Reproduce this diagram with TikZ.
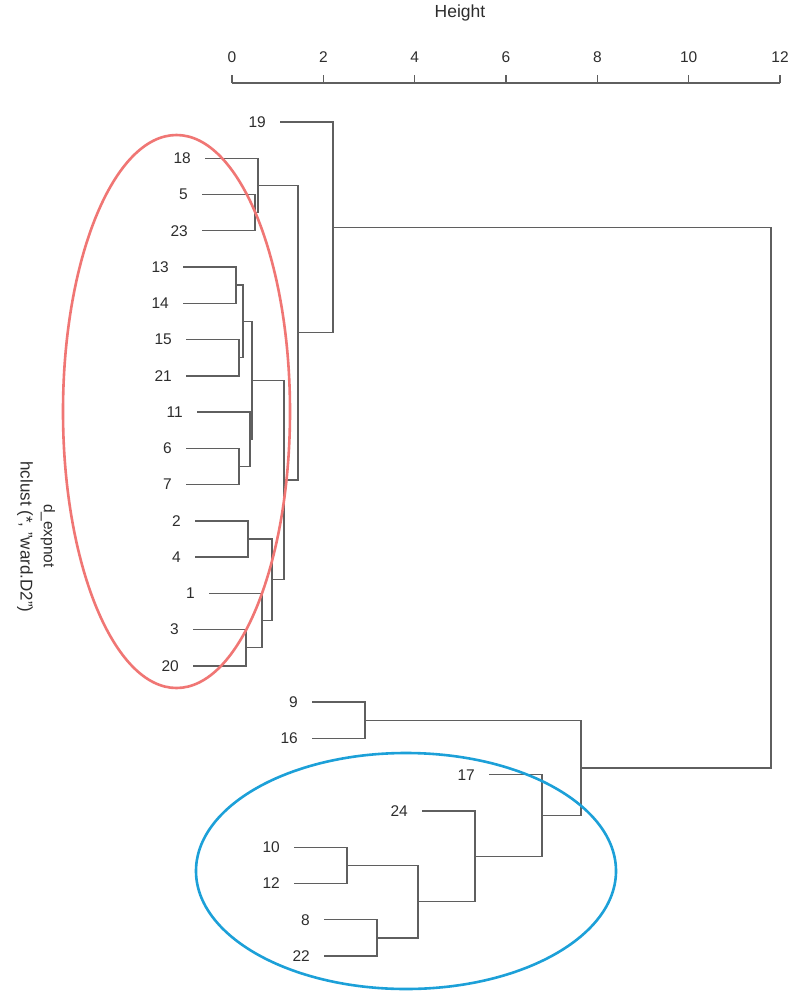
\documentclass[tikz,border=0pt]{standalone}
\usepackage{fontspec}
\setmainfont{Liberation Sans}

\definecolor{branchgray}{RGB}{95,95,95}
\definecolor{textgray}{RGB}{45,45,45}
\definecolor{clusterred}{RGB}{240,118,116}
\definecolor{clusterblue}{RGB}{28,160,216}

\tikzset{
  leaf/.style={anchor=east, inner sep=0pt, text=textgray},
  branch/.style={draw=branchgray, line width=1.4pt},
  axislabel/.style={inner sep=0pt, text=textgray},
  cluster/.style={line width=2.6pt}
}

\begin{document}
\begin{tikzpicture}[x=1pt, y=-1pt, font=\fontsize{15.5}{18}\selectfont]
\useasboundingbox[fill=white] (0,0) rectangle (788,994);

% Height axis
\node[axislabel, font=\fontsize{17.5}{20}\selectfont] (height) at (460,13) {Height};
\coordinate (ax0) at (232,83);
\coordinate (ax1) at (780,83);
\draw[branch] (ax0) -- (ax1);
\foreach \h in {0,2,...,12} {
  \coordinate (tk\h) at (232+45.67*\h,83);
  \draw[branch] (tk\h) -- ++(0,-8);
  \node[axislabel] (tl\h) at (232+45.67*\h,57) {\h};
}

% Leaves (label, start of branch)
\foreach \lab/\xs [count=\i from 0] in {19/280, 18/205, 5/202, 23/202,
    13/183, 14/183, 15/186, 21/186, 11/197, 6/186, 7/186, 2/195, 4/195,
    1/209, 3/193, 20/193, 9/312, 16/312, 17/489, 24/422, 10/294, 12/294,
    8/324, 22/324} {
  \coordinate (s\lab) at (\xs,122+36.26*\i);
  \node[leaf] (n\lab) at (\xs-14,122+36.26*\i) {\lab};
}

% Merges of the upper group
\coordinate (mA) at (255,212.65);
\coordinate (mB) at (258,185.46);
\coordinate (mC) at (236,285.17);
\coordinate (mD) at (239,357.69);
\coordinate (mE) at (243,321.43);
\coordinate (mF) at (239,466.47);
\coordinate (mG) at (250,439.28);
\coordinate (mH) at (252,380.35);
\coordinate (mI) at (248,538.99);
\coordinate (mJ) at (246,647.77);
\coordinate (mK) at (262,620.58);
\coordinate (mL) at (272,579.78);
\coordinate (mM) at (284,480.07);
\coordinate (mN) at (298,332.76);
\coordinate (mO) at (333,227.38);
% Merges of the lower group
\coordinate (mP) at (365,720.29);
\coordinate (mQ) at (347,865.33);
\coordinate (mR) at (377,937.85);
\coordinate (mS) at (418,901.59);
\coordinate (mT) at (475,856.27);
\coordinate (mU) at (542,815.48);
\coordinate (mV) at (581,767.89);
\coordinate (root) at (771,497.6);

\draw[branch] (s5) -| (mA) |- (s23);
\draw[branch] (s18) -| (mB) |- (mA);
\draw[branch] (s13) -| (mC) |- (s14);
\draw[branch] (s15) -| (mD) |- (s21);
\draw[branch] (mC) -| (mE) |- (mD);
\draw[branch] (s6) -| (mF) |- (s7);
\draw[branch] (s11) -| (mG) |- (mF);
\draw[branch] (mE) -| (mH) |- (mG);
\draw[branch] (s2) -| (mI) |- (s4);
\draw[branch] (s3) -| (mJ) |- (s20);
\draw[branch] (s1) -| (mK) |- (mJ);
\draw[branch] (mI) -| (mL) |- (mK);
\draw[branch] (mH) -| (mM) |- (mL);
\draw[branch] (mB) -| (mN) |- (mM);
\draw[branch] (s19) -| (mO) |- (mN);
\draw[branch] (s9) -| (mP) |- (s16);
\draw[branch] (s10) -| (mQ) |- (s12);
\draw[branch] (s8) -| (mR) |- (s22);
\draw[branch] (mQ) -| (mS) |- (mR);
\draw[branch] (s24) -| (mT) |- (mS);
\draw[branch] (s17) -| (mU) |- (mT);
\draw[branch] (mP) -| (mV) |- (mU);
\draw[branch] (mO) -| (root) |- (mV);

% Side titles
\node[axislabel, rotate=-90] (xlab) at (48,536) {d\_expnot};
\node[axislabel, rotate=-90, font=\fontsize{17}{20}\selectfont] (sublab) at (25,537) {hclust (*, "ward.D2")};

% Cluster rings
\draw[cluster, clusterred] (176.5,411.5) ellipse [x radius=113.5pt, y radius=276.5pt];
\draw[cluster, clusterblue] (406,871) ellipse [x radius=210pt, y radius=118pt];
\end{tikzpicture}
\end{document}
